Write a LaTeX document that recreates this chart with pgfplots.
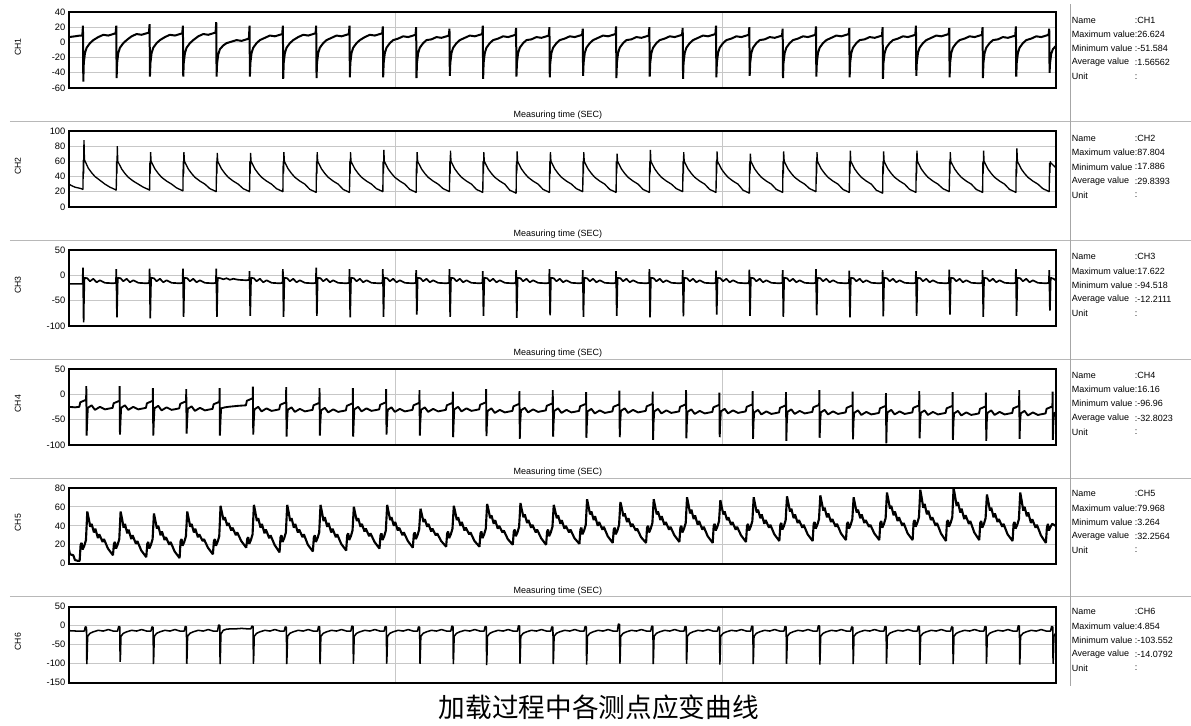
\documentclass[border=0pt]{standalone}
\usepackage{fontspec}
\setmainfont{Liberation Sans}
\newfontfamily\cjk{Noto Sans CJK SC}
\usepackage{pgfplots}
\pgfplotsset{compat=1.18}
\pgfplotsset{
  chan/.style={
    scale only axis, width=740.25pt, height=57pt,
    xmin=-4.3, xmax=291.8,
    xtick={93.8,191.9}, xticklabels={},
    grid=major,
    major grid style={draw=black!22, line width=0.6pt},
    axis line style={line width=1.5pt},
    tick style={draw=none},
    yticklabel style={font=\fontsize{7}{8}\selectfont, inner sep=0pt, xshift=-2.5pt},
    /pgf/number format/assume math mode=true,
    anchor=south west,
  },
  trace/.style={black, line join=bevel, mark=none},
}
\newcommand{\info}[5]{%
  \begin{scope}[font=\fontsize{6.75}{8}\selectfont, inner sep=0pt]
  \node[anchor=west] at (1072,-#1) {Name};
  \node[anchor=west] at (1135,-#1) {:#2};
  \node[anchor=west] at (1072,-#1-14.2) {Maximum value};
  \node[anchor=west] at (1135,-#1-14.2) {:#3};
  \node[anchor=west] at (1072,-#1-28.4) {Minimum value};
  \node[anchor=west] at (1135,-#1-28.4) {:#4};
  \node[anchor=west] at (1072,-#1-42.6) {Average value};
  \node[anchor=west] at (1135,-#1-42.6) {:#5};
  \node[anchor=west] at (1072,-#1-56.8) {Unit};
  \node[anchor=west] at (1135,-#1-56.8) {:};
  \end{scope}}
\begin{document}
\begin{tikzpicture}[x=0.75pt,y=0.75pt]
\path (0,0) rectangle (1191,-726);
% separators
\foreach \yy in {122,241,360,479,597}{\draw[black!28, line width=0.75pt] (10,-\yy) -- (1191,-\yy);}
\draw[black!35, line width=0.75pt] (1071,-4) -- (1071,-686);
% labels
\foreach \yy/\nm in {47/CH1,166/CH2,285/CH3,404/CH4,523/CH5,642/CH6}{\node[rotate=90, font=\fontsize{6.5}{7}\selectfont] at (18,-\yy) {\nm};}
\foreach \yy in {115,234,353,472,591}{\node[font=\fontsize{6.75}{8}\selectfont] at (558,-\yy) {Measuring time (SEC)};}
\info{20}{CH1}{26.624}{-51.584}{1.56562}
\info{138.5}{CH2}{87.804}{17.886}{29.8393}
\info{257}{CH3}{17.622}{-94.518}{-12.2111}
\info{375.5}{CH4}{16.16}{-96.96}{-32.8023}
\info{494}{CH5}{79.968}{3.264}{32.2564}
\info{612}{CH6}{4.854}{-103.552}{-14.0792}
\node[font={\cjk\fontsize{20}{24}\selectfont}] at (599,-708) {加载过程中各测点应变曲线};

% ---------------- CH1
\begin{axis}[chan, at={(51.75pt,-66pt)}, ymin=-60, ymax=40, ytick={-60,-40,-20,0,20,40}]
\addplot[trace, line width=1.5pt] coordinates {
(-4.3,7)(-2.5,8)(-1,9)
(-0.3,9)(-0.1,22)(0,-51.6)(0.15,-27)(0.5,-14)(1,-7)(2,-1)(3,3)(4.5,7)(6,10)(7.5,9)(9,11)
(9.7,12)(9.9,22)(10,-47)(10.15,-27)(10.5,-14)(11,-7)(12,-1)(13,3)(14.5,8)(16,11)(17.5,10)(19,12)
(19.7,13)(19.9,24)(20,-45)(20.15,-27)(20.5,-14)(21,-7)(22,-1)(23,3)(24.5,7)(26,10)(27.5,9)(29,11)
(29.7,12)(29.9,22)(30,-45)(30.15,-27)(30.5,-14)(31,-7)(32,-1)(33,3)(34.5,8)(36,11)(37.5,10)(39,12)
(39.7,13)(39.9,26.6)(40,-45)(40.15,-28)(40.5,-16)(41,-9)(42,-4)(43,-1)(44.5,1)(46,3)(47.5,2)(49,4)
(49.7,5)(49.9,22)(50,-45)(50.15,-27)(50.5,-14)(51,-7)(52,-1)(53,3)(54.5,6)(56,9)(57.5,8)(59,10)
(59.7,11)(59.9,22)(60,-48)(60.15,-27)(60.5,-14)(61,-7)(62,-1)(63,3)(64.5,7)(66,10)(67.5,9)(69,11)
(69.7,12)(69.9,22)(70,-47)(70.15,-27)(70.5,-14)(71,-7)(72,-1)(73,3)(74.5,6)(76,9)(77.5,8)(79,10)
(79.7,11)(79.9,22)(80,-46)(80.15,-27)(80.5,-14)(81,-7)(82,-1)(83,3)(84.5,7)(86,10)(87.5,9)(89,11)
(89.7,12)(89.9,21)(90,-46)(90.15,-27)(90.5,-14)(91,-7)(92,-1)(93,3)(94.5,5)(96,8)(97.5,7)(99,9)
(99.7,10)(99.9,20)(100,-47)(100.15,-27)(100.5,-14)(101,-7)(102,-1)(103,3)(104.5,4)(106,7)(107.5,6)(109,8)
(109.7,9)(109.9,18)(110,-44)(110.15,-27)(110.5,-14)(111,-7)(112,-1)(113,3)(114.5,6)(116,9)(117.5,8)(119,10)
(119.7,11)(119.9,22)(120,-48)(120.15,-27)(120.5,-14)(121,-7)(122,-1)(123,3)(124.5,5)(126,8)(127.5,7)(129,9)
(129.7,10)(129.9,19)(130,-45)(130.15,-27)(130.5,-14)(131,-7)(132,-1)(133,3)(134.5,4)(136,7)(137.5,6)(139,8)
(139.7,9)(139.9,20)(140,-46)(140.15,-27)(140.5,-14)(141,-7)(142,-1)(143,3)(144.5,5)(146,8)(147.5,7)(149,9)
(149.7,10)(149.9,18)(150,-44)(150.15,-27)(150.5,-14)(151,-7)(152,-1)(153,3)(154.5,6)(156,9)(157.5,8)(159,10)
(159.7,11)(159.9,21)(160,-47)(160.15,-27)(160.5,-14)(161,-7)(162,-1)(163,3)(164.5,4)(166,7)(167.5,6)(169,8)
(169.7,9)(169.9,20)(170,-45)(170.15,-27)(170.5,-14)(171,-7)(172,-1)(173,3)(174.5,5)(176,8)(177.5,7)(179,9)
(179.7,10)(179.9,19)(180,-48)(180.15,-27)(180.5,-14)(181,-7)(182,-1)(183,3)(184.5,6)(186,9)(187.5,8)(189,10)
(189.7,11)(189.9,22)(190,-46)(190.15,-27)(190.5,-14)(191,-7)(192,-1)(193,3)(194.5,5)(196,8)(197.5,7)(199,9)
(199.7,10)(199.9,20)(200,-44)(200.15,-27)(200.5,-14)(201,-7)(202,-1)(203,3)(204.5,4)(206,7)(207.5,6)(209,8)
(209.7,9)(209.9,18)(210,-47)(210.15,-27)(210.5,-14)(211,-7)(212,-1)(213,3)(214.5,5)(216,8)(217.5,7)(219,9)
(219.7,10)(219.9,21)(220,-45)(220.15,-27)(220.5,-14)(221,-7)(222,-1)(223,3)(224.5,6)(226,9)(227.5,8)(229,10)
(229.7,11)(229.9,19)(230,-46)(230.15,-27)(230.5,-14)(231,-7)(232,-1)(233,3)(234.5,4)(236,7)(237.5,6)(239,8)
(239.7,9)(239.9,20)(240,-48)(240.15,-27)(240.5,-14)(241,-7)(242,-1)(243,3)(244.5,5)(246,8)(247.5,7)(249,9)
(249.7,10)(249.9,22)(250,-44)(250.15,-27)(250.5,-14)(251,-7)(252,-1)(253,3)(254.5,6)(256,9)(257.5,8)(259,10)
(259.7,11)(259.9,19)(260,-46)(260.15,-27)(260.5,-14)(261,-7)(262,-1)(263,3)(264.5,5)(266,8)(267.5,7)(269,9)
(269.7,10)(269.9,20)(270,-47)(270.15,-27)(270.5,-14)(271,-7)(272,-1)(273,3)(274.5,4)(276,7)(277.5,6)(279,8)
(279.7,9)(279.9,21)(280,-45)(280.15,-27)(280.5,-14)(281,-7)(282,-1)(283,3)(284.5,5)(286,8)(287.5,7)(289,9)
(289.7,10)(289.9,18)(290,-40)(290.15,-27)(290.5,-15)(291,-9)(291.8,-5)
};
\end{axis}

% ---------------- CH2
\begin{axis}[chan, at={(51.75pt,-155.25pt)}, ymin=0, ymax=100, ytick={0,20,40,60,80,100}]
\addplot[trace, line width=1.0pt] coordinates {
(-4.3,30)(-3.5,28)(-2.5,26)(-1.5,25)(-0.6,24)
(-0.1,23)(0,62)(0.1,44)(0.2,88)(0.35,62)(1.5,51)(2.5,45)(3.5,40)(5,35)(6.5,30)(8,26)(9.5,23)
(9.9,22)(10,60)(10.1,44)(10.2,80)(10.35,60)(11.5,50)(12.5,44)(13.5,39)(15,34)(16.5,30)(18,26)(19.5,23)
(19.9,22)(20,60)(20.1,44)(20.2,72)(20.35,60)(21.5,50)(22.5,44)(23.5,39)(25,34)(26.5,30)(28,25)(29.5,22)
(29.9,21)(30,60)(30.1,44)(30.2,72)(30.35,60)(31.5,50)(32.5,44)(33.5,39)(35,34)(36.5,30)(38,24)(39.5,21)
(39.9,20)(40,60)(40.1,44)(40.2,71)(40.35,60)(41.5,50)(42.5,44)(43.5,39)(45,34)(46.5,30)(48,24)(49.5,21)
(49.9,20)(50,60)(50.1,44)(50.2,71)(50.35,60)(51.5,50)(52.5,44)(53.5,39)(55,34)(56.5,30)(58,24)(59.5,21)
(59.9,20)(60,60)(60.1,44)(60.2,72)(60.35,60)(61.5,50)(62.5,44)(63.5,39)(65,34)(66.5,30)(68,23)(69.5,20)
(69.9,19)(70,60)(70.1,44)(70.2,72)(70.35,60)(71.5,50)(72.5,44)(73.5,39)(75,34)(76.5,30)(78,23)(79.5,20)
(79.9,19)(80,60)(80.1,44)(80.2,72)(80.35,60)(81.5,50)(82.5,44)(83.5,39)(85,34)(86.5,30)(88,24)(89.5,21)
(89.9,20)(90,60)(90.1,44)(90.2,75)(90.35,60)(91.5,50)(92.5,44)(93.5,39)(95,34)(96.5,30)(98,23)(99.5,20)
(99.9,19)(100,60)(100.1,44)(100.2,72)(100.35,60)(101.5,50)(102.5,44)(103.5,39)(105,34)(106.5,30)(108,24)(109.5,21)
(109.9,20)(110,60)(110.1,44)(110.2,74)(110.35,60)(111.5,50)(112.5,44)(113.5,39)(115,34)(116.5,30)(118,23)(119.5,20)
(119.9,19)(120,60)(120.1,44)(120.2,72)(120.35,60)(121.5,50)(122.5,44)(123.5,39)(125,34)(126.5,30)(128,22)(129.5,19)
(129.9,18)(130,60)(130.1,44)(130.2,73)(130.35,60)(131.5,50)(132.5,44)(133.5,39)(135,34)(136.5,30)(138,23)(139.5,20)
(139.9,19)(140,60)(140.1,44)(140.2,72)(140.35,60)(141.5,50)(142.5,44)(143.5,39)(145,34)(146.5,30)(148,24)(149.5,21)
(149.9,20)(150,60)(150.1,44)(150.2,72)(150.35,60)(151.5,50)(152.5,44)(153.5,39)(155,34)(156.5,30)(158,23)(159.5,20)
(159.9,19)(160,60)(160.1,44)(160.2,70)(160.35,60)(161.5,50)(162.5,44)(163.5,39)(165,34)(166.5,30)(168,23)(169.5,20)
(169.9,19)(170,60)(170.1,44)(170.2,75)(170.35,60)(171.5,50)(172.5,44)(173.5,39)(175,34)(176.5,30)(178,24)(179.5,21)
(179.9,20)(180,60)(180.1,44)(180.2,72)(180.35,60)(181.5,50)(182.5,44)(183.5,39)(185,34)(186.5,30)(188,23)(189.5,20)
(189.9,19)(190,60)(190.1,44)(190.2,73)(190.35,60)(191.5,50)(192.5,44)(193.5,39)(195,34)(196.5,30)(198,22)(199.5,19)
(199.9,18)(200,60)(200.1,44)(200.2,70)(200.35,60)(201.5,50)(202.5,44)(203.5,39)(205,34)(206.5,30)(208,23)(209.5,20)
(209.9,19)(210,60)(210.1,44)(210.2,73)(210.35,60)(211.5,50)(212.5,44)(213.5,39)(215,34)(216.5,30)(218,24)(219.5,21)
(219.9,20)(220,60)(220.1,44)(220.2,72)(220.35,60)(221.5,50)(222.5,44)(223.5,39)(225,34)(226.5,30)(228,23)(229.5,20)
(229.9,19)(230,60)(230.1,44)(230.2,74)(230.35,60)(231.5,50)(232.5,44)(233.5,39)(235,34)(236.5,30)(238,22)(239.5,19)
(239.9,18)(240,60)(240.1,44)(240.2,73)(240.35,60)(241.5,50)(242.5,44)(243.5,39)(245,34)(246.5,30)(248,23)(249.5,20)
(249.9,19)(250,60)(250.1,44)(250.2,74)(250.35,60)(251.5,50)(252.5,44)(253.5,39)(255,34)(256.5,30)(258,24)(259.5,21)
(259.9,20)(260,60)(260.1,44)(260.2,72)(260.35,60)(261.5,50)(262.5,44)(263.5,39)(265,34)(266.5,30)(268,23)(269.5,20)
(269.9,19)(270,60)(270.1,44)(270.2,74)(270.35,60)(271.5,50)(272.5,44)(273.5,39)(275,34)(276.5,30)(278,23)(279.5,20)
(279.9,19)(280,60)(280.1,44)(280.2,77)(280.35,60)(281.5,50)(282.5,44)(283.5,39)(285,34)(286.5,30)(288,24)(289.5,21)
(289.9,20)(290,58)(290.1,45)(290.2,60)(290.35,58)(291.8,52)
};
\end{axis}

% ---------------- CH3
\begin{axis}[chan, at={(51.75pt,-244.5pt)}, ymin=-100, ymax=50, ytick={-100,-50,0,50}]
\addplot[trace, line width=1.25pt] coordinates {
(-4.3,-17)(-0.3,-17)
(-0.2,-15)(-0.1,15)(0.1,-93)(0.2,-50)(0.35,-5)(1.2,-6)(2,-12)(3,-7)(4,-14)(5,-10)(6.5,-15)(9,-16)
(9.8,-15)(9.9,12)(10.1,-83)(10.2,-50)(10.35,-5)(11.2,-6)(12,-12)(13,-7)(14,-14)(15,-10)(16.5,-15)(19,-16)
(19.8,-15)(19.9,13)(20.1,-85)(20.2,-50)(20.35,-5)(21.2,-6)(22,-12)(23,-7)(24,-14)(25,-10)(26.5,-15)(29,-16)
(29.8,-15)(29.9,13)(30.1,-82)(30.2,-50)(30.35,-5)(31.2,-6)(32,-12)(33,-7)(34,-14)(35,-10)(36.5,-15)(39,-16)
(39.8,-15)(39.9,13)(40.1,-82)(40.2,-50)(40.35,-5)(41.2,-6)(42,-8)(43,-6)(44,-9)(45,-7)(46.5,-9)(49,-10)
(49.8,-9)(49.9,8)(50.1,-80)(50.2,-50)(50.35,-5)(51.2,-6)(52,-12)(53,-7)(54,-14)(55,-10)(56.5,-15)(59,-16)
(59.8,-15)(59.9,12)(60.1,-82)(60.2,-50)(60.35,-5)(61.2,-6)(62,-12)(63,-7)(64,-14)(65,-10)(66.5,-15)(69,-16)
(69.8,-15)(69.9,15)(70.1,-80)(70.2,-50)(70.35,-5)(71.2,-6)(72,-12)(73,-7)(74,-14)(75,-10)(76.5,-15)(79,-16)
(79.8,-15)(79.9,12)(80.1,-83)(80.2,-50)(80.35,-5)(81.2,-6)(82,-12)(83,-7)(84,-14)(85,-10)(86.5,-15)(89,-16)
(89.8,-15)(89.9,12)(90.1,-82)(90.2,-50)(90.35,-5)(91.2,-6)(92,-12)(93,-7)(94,-14)(95,-10)(96.5,-15)(99,-16)
(99.8,-15)(99.9,10)(100.1,-78)(100.2,-50)(100.35,-5)(101.2,-6)(102,-12)(103,-7)(104,-14)(105,-10)(106.5,-15)(109,-16)
(109.8,-15)(109.9,12)(110.1,-82)(110.2,-50)(110.35,-5)(111.2,-6)(112,-12)(113,-7)(114,-14)(115,-10)(116.5,-15)(119,-16)
(119.8,-15)(119.9,8)(120.1,-80)(120.2,-50)(120.35,-5)(121.2,-6)(122,-12)(123,-7)(124,-14)(125,-10)(126.5,-15)(129,-16)
(129.8,-15)(129.9,10)(130.1,-84)(130.2,-50)(130.35,-5)(131.2,-6)(132,-12)(133,-7)(134,-14)(135,-10)(136.5,-15)(139,-16)
(139.8,-15)(139.9,12)(140.1,-79)(140.2,-50)(140.35,-5)(141.2,-6)(142,-12)(143,-7)(144,-14)(145,-10)(146.5,-15)(149,-16)
(149.8,-15)(149.9,10)(150.1,-82)(150.2,-50)(150.35,-5)(151.2,-6)(152,-12)(153,-7)(154,-14)(155,-10)(156.5,-15)(159,-16)
(159.8,-15)(159.9,8)(160.1,-80)(160.2,-50)(160.35,-5)(161.2,-6)(162,-12)(163,-7)(164,-14)(165,-10)(166.5,-15)(169,-16)
(169.8,-15)(169.9,12)(170.1,-83)(170.2,-50)(170.35,-5)(171.2,-6)(172,-12)(173,-7)(174,-14)(175,-10)(176.5,-15)(179,-16)
(179.8,-15)(179.9,10)(180.1,-81)(180.2,-50)(180.35,-5)(181.2,-6)(182,-12)(183,-7)(184,-14)(185,-10)(186.5,-15)(189,-16)
(189.8,-15)(189.9,9)(190.1,-78)(190.2,-50)(190.35,-5)(191.2,-6)(192,-12)(193,-7)(194,-14)(195,-10)(196.5,-15)(199,-16)
(199.8,-15)(199.9,11)(200.1,-80)(200.2,-50)(200.35,-5)(201.2,-6)(202,-12)(203,-7)(204,-14)(205,-10)(206.5,-15)(209,-16)
(209.8,-15)(209.9,10)(210.1,-82)(210.2,-50)(210.35,-5)(211.2,-6)(212,-12)(213,-7)(214,-14)(215,-10)(216.5,-15)(219,-16)
(219.8,-15)(219.9,12)(220.1,-79)(220.2,-50)(220.35,-5)(221.2,-6)(222,-12)(223,-7)(224,-14)(225,-10)(226.5,-15)(229,-16)
(229.8,-15)(229.9,9)(230.1,-83)(230.2,-50)(230.35,-5)(231.2,-6)(232,-12)(233,-7)(234,-14)(235,-10)(236.5,-15)(239,-16)
(239.8,-15)(239.9,10)(240.1,-81)(240.2,-50)(240.35,-5)(241.2,-6)(242,-12)(243,-7)(244,-14)(245,-10)(246.5,-15)(249,-16)
(249.8,-15)(249.9,8)(250.1,-80)(250.2,-50)(250.35,-5)(251.2,-6)(252,-12)(253,-7)(254,-14)(255,-10)(256.5,-15)(259,-16)
(259.8,-15)(259.9,11)(260.1,-78)(260.2,-50)(260.35,-5)(261.2,-6)(262,-12)(263,-7)(264,-14)(265,-10)(266.5,-15)(269,-16)
(269.8,-15)(269.9,10)(270.1,-82)(270.2,-50)(270.35,-5)(271.2,-6)(272,-12)(273,-7)(274,-14)(275,-10)(276.5,-15)(279,-16)
(279.8,-15)(279.9,12)(280.1,-80)(280.2,-50)(280.35,-5)(281.2,-6)(282,-12)(283,-7)(284,-14)(285,-10)(286.5,-15)(289,-16)
(289.8,-15)(289.9,10)(290.1,-70)(290.2,-45)(290.35,-5)(291.2,-7)(291.8,-10)
};
\end{axis}

% ---------------- CH4
\begin{axis}[chan, at={(51.75pt,-333.75pt)}, ymin=-100, ymax=50, ytick={-100,-50,0,50}]
\addplot[trace, line width=1.4pt] coordinates {
(-4.3,-25)(-2.5,-26)(-1.2,-25)
(-0.9,-16)(0.5,-12)(0.85,-11)(0.9,16)(1,-82)(1.15,-55)(1.35,-27)(2.5,-22)(3.5,-31)(5,-25)(6.5,-30)(8.8,-27)
(9.1,-18)(10.5,-14)(10.85,-13)(10.9,16)(11,-80)(11.15,-55)(11.35,-27)(12.5,-22)(13.5,-31)(15,-25)(16.5,-30)(18.8,-27)
(19.1,-18)(20.5,-14)(20.85,-13)(20.9,12)(21,-82)(21.15,-55)(21.35,-28)(22.5,-23)(23.5,-32)(25,-26)(26.5,-31)(28.8,-28)
(29.1,-19)(30.5,-15)(30.85,-14)(30.9,10)(31,-78)(31.15,-55)(31.35,-29)(32.5,-24)(33.5,-33)(35,-27)(36.5,-32)(38.8,-29)
(39.1,-20)(40.5,-16)(40.85,-15)(40.9,12)(41,-82)(41.15,-55)(41.35,-28)(42.5,-26)(43.5,-25)(45,-24)(46.5,-23)(48.8,-22)
(49.1,-13)(50.5,-9)(50.85,-8)(50.9,15)(51,-80)(51.15,-55)(51.35,-30)(52.5,-25)(53.5,-34)(55,-28)(56.5,-33)(58.8,-30)
(59.1,-21)(60.5,-17)(60.85,-16)(60.9,14)(61,-84)(61.15,-55)(61.35,-31)(62.5,-26)(63.5,-35)(65,-29)(66.5,-34)(68.8,-31)
(69.1,-22)(70.5,-18)(70.85,-17)(70.9,12)(71,-82)(71.15,-55)(71.35,-32)(72.5,-27)(73.5,-36)(75,-30)(76.5,-35)(78.8,-32)
(79.1,-23)(80.5,-19)(80.85,-18)(80.9,12)(81,-84)(81.15,-55)(81.35,-30)(82.5,-25)(83.5,-34)(85,-28)(86.5,-33)(88.8,-30)
(89.1,-21)(90.5,-17)(90.85,-16)(90.9,10)(91,-80)(91.15,-55)(91.35,-31)(92.5,-26)(93.5,-35)(95,-29)(96.5,-34)(98.8,-31)
(99.1,-22)(100.5,-18)(100.85,-17)(100.9,8)(101,-82)(101.15,-55)(101.35,-31)(102.5,-26)(103.5,-35)(105,-29)(106.5,-34)(108.8,-31)
(109.1,-22)(110.5,-18)(110.85,-17)(110.9,5)(111,-85)(111.15,-55)(111.35,-30)(112.5,-25)(113.5,-34)(115,-28)(116.5,-33)(118.8,-30)
(119.1,-21)(120.5,-17)(120.85,-16)(120.9,10)(121,-83)(121.15,-55)(121.35,-33)(122.5,-28)(123.5,-37)(125,-31)(126.5,-36)(128.8,-33)
(129.1,-24)(130.5,-20)(130.85,-19)(130.9,6)(131,-88)(131.15,-55)(131.35,-32)(132.5,-27)(133.5,-36)(135,-30)(136.5,-35)(138.8,-32)
(139.1,-23)(140.5,-19)(140.85,-18)(140.9,8)(141,-84)(141.15,-55)(141.35,-33)(142.5,-28)(143.5,-37)(145,-31)(146.5,-36)(148.8,-33)
(149.1,-24)(150.5,-20)(150.85,-19)(150.9,4)(151,-86)(151.15,-55)(151.35,-34)(152.5,-29)(153.5,-38)(155,-32)(156.5,-37)(158.8,-34)
(159.1,-25)(160.5,-21)(160.85,-20)(160.9,7)(161,-85)(161.15,-55)(161.35,-33)(162.5,-28)(163.5,-37)(165,-31)(166.5,-36)(168.8,-33)
(169.1,-24)(170.5,-20)(170.85,-19)(170.9,5)(171,-90)(171.15,-55)(171.35,-34)(172.5,-29)(173.5,-38)(175,-32)(176.5,-37)(178.8,-34)
(179.1,-25)(180.5,-21)(180.85,-20)(180.9,8)(181,-87)(181.15,-55)(181.35,-35)(182.5,-30)(183.5,-39)(185,-33)(186.5,-38)(188.8,-35)
(189.1,-26)(190.5,-22)(190.85,-21)(190.9,3)(191,-85)(191.15,-55)(191.35,-34)(192.5,-29)(193.5,-38)(195,-32)(196.5,-37)(198.8,-34)
(199.1,-25)(200.5,-21)(200.85,-20)(200.9,6)(201,-88)(201.15,-55)(201.35,-36)(202.5,-31)(203.5,-40)(205,-34)(206.5,-39)(208.8,-36)
(209.1,-27)(210.5,-23)(210.85,-22)(210.9,4)(211,-92)(211.15,-55)(211.35,-35)(212.5,-30)(213.5,-39)(215,-33)(216.5,-38)(218.8,-35)
(219.1,-26)(220.5,-22)(220.85,-21)(220.9,8)(221,-86)(221.15,-55)(221.35,-36)(222.5,-31)(223.5,-40)(225,-34)(226.5,-39)(228.8,-36)
(229.1,-27)(230.5,-23)(230.85,-22)(230.9,5)(231,-89)(231.15,-55)(231.35,-37)(232.5,-32)(233.5,-41)(235,-35)(236.5,-40)(238.8,-37)
(239.1,-28)(240.5,-24)(240.85,-23)(240.9,2)(241,-97)(241.15,-55)(241.35,-36)(242.5,-31)(243.5,-40)(245,-34)(246.5,-39)(248.8,-36)
(249.1,-27)(250.5,-23)(250.85,-22)(250.9,6)(251,-87)(251.15,-55)(251.35,-37)(252.5,-32)(253.5,-41)(255,-35)(256.5,-40)(258.8,-37)
(259.1,-28)(260.5,-24)(260.85,-23)(260.9,4)(261,-90)(261.15,-55)(261.35,-38)(262.5,-33)(263.5,-42)(265,-36)(266.5,-41)(268.8,-38)
(269.1,-29)(270.5,-25)(270.85,-24)(270.9,3)(271,-92)(271.15,-55)(271.35,-37)(272.5,-32)(273.5,-41)(275,-35)(276.5,-40)(278.8,-37)
(279.1,-28)(280.5,-24)(280.85,-23)(280.9,8)(281,-88)(281.15,-55)(281.35,-38)(282.5,-33)(283.5,-42)(285,-36)(286.5,-41)(288.8,-38)
(289.1,-29)(290.5,-25)(290.85,-24)(290.9,5)(291,-90)(291.15,-55)(291.35,-38)(291.8,-36)
};
\end{axis}

% ---------------- CH5
\begin{axis}[chan, at={(51.75pt,-423pt)}, ymin=0, ymax=80, ytick={0,20,40,60,80}]
\addplot[trace, line width=1.6pt] coordinates {
(-4.3,15)(-4,10)(-3,9)(-2.5,4)(-1.6,3)(-1.1,3)
(-0.8,20)(-0.5,22)(-0.2,15)(0.3,19)(0.8,25)(1.2,55)(1.6,48)(2.1,39)(2.5,42)(3.2,33)(3.6,37)(4.4,27)(4.8,31)(5.8,23)(6.2,26)(7.4,16)(8.9,9)
(9.2,21)(9.5,23)(9.8,16)(10.3,20)(10.8,26)(11.2,55)(11.6,48)(12.1,38)(12.5,42)(13.2,32)(13.6,36)(14.4,26)(14.8,30)(15.8,21)(16.2,24)(17.4,14)(18.9,7)
(19.2,21)(19.5,23)(19.8,16)(20.3,20)(20.8,26)(21.2,53)(21.6,46)(22.1,37)(22.5,40)(23.2,30)(23.6,34)(24.4,25)(24.8,28)(25.8,20)(26.2,23)(27.4,13)(28.9,6)
(29.2,24)(29.5,26)(29.8,19)(30.3,23)(30.8,29)(31.2,55)(31.6,48)(32.1,39)(32.5,42)(33.2,33)(33.6,37)(34.4,28)(34.8,31)(35.8,24)(36.2,26)(37.4,17)(38.9,10)
(39.2,24)(39.5,26)(39.8,19)(40.3,23)(40.8,29)(41.2,61)(41.6,54)(42.1,46)(42.5,49)(43.2,40)(43.6,43)(44.4,35)(44.8,38)(45.8,30)(46.2,33)(47.4,24)(48.9,17)
(49.2,26)(49.5,28)(49.8,21)(50.3,25)(50.8,31)(51.2,62)(51.6,55)(52.1,45)(52.5,48)(53.2,38)(53.6,42)(54.4,32)(54.8,36)(55.8,27)(56.2,30)(57.4,20)(58.9,12)
(59.2,28)(59.5,30)(59.8,23)(60.3,27)(60.8,33)(61.2,62)(61.6,55)(62.1,45)(62.5,48)(63.2,38)(63.6,42)(64.4,33)(64.8,36)(65.8,28)(66.2,31)(67.4,20)(68.9,13)
(69.2,28)(69.5,30)(69.8,23)(70.3,27)(70.8,33)(71.2,62)(71.6,55)(72.1,45)(72.5,49)(73.2,39)(73.6,43)(74.4,33)(74.8,37)(75.8,28)(76.2,31)(77.4,21)(78.9,14)
(79.2,30)(79.5,32)(79.8,25)(80.3,29)(80.8,35)(81.2,60)(81.6,53)(82.1,45)(82.5,48)(83.2,39)(83.6,42)(84.4,34)(84.8,37)(85.8,29)(86.2,32)(87.4,23)(88.9,16)
(89.2,30)(89.5,32)(89.8,25)(90.3,29)(90.8,35)(91.2,62)(91.6,55)(92.1,46)(92.5,49)(93.2,40)(93.6,44)(94.4,35)(94.8,38)(95.8,30)(96.2,33)(97.4,24)(98.9,17)
(99.2,31)(99.5,33)(99.8,26)(100.3,30)(100.8,36)(101.2,58)(101.6,52)(102.1,44)(102.5,47)(103.2,39)(103.6,42)(104.4,34)(104.8,37)(105.8,30)(106.2,32)(107.4,24)(108.9,18)
(109.2,32)(109.5,34)(109.8,27)(110.3,31)(110.8,37)(111.2,61)(111.6,55)(112.1,46)(112.5,49)(113.2,40)(113.6,44)(114.4,35)(114.8,38)(115.8,31)(116.2,33)(117.4,24)(118.9,18)
(119.2,32)(119.5,34)(119.8,27)(120.3,31)(120.8,37)(121.2,63)(121.6,57)(122.1,48)(122.5,51)(123.2,42)(123.6,46)(124.4,37)(124.8,40)(125.8,33)(126.2,35)(127.4,26)(128.9,20)
(129.2,34)(129.5,36)(129.8,29)(130.3,33)(130.8,39)(131.2,64)(131.6,57)(132.1,49)(132.5,52)(133.2,43)(133.6,46)(134.4,38)(134.8,41)(135.8,33)(136.2,36)(137.4,27)(138.9,20)
(139.2,34)(139.5,36)(139.8,29)(140.3,33)(140.8,39)(141.2,62)(141.6,56)(142.1,48)(142.5,51)(143.2,42)(143.6,46)(144.4,37)(144.8,40)(145.8,33)(146.2,36)(147.4,27)(148.9,21)
(149.2,36)(149.5,38)(149.8,31)(150.3,35)(150.8,41)(151.2,68)(151.6,61)(152.1,52)(152.5,55)(153.2,46)(153.6,50)(154.4,40)(154.8,44)(155.8,36)(156.2,39)(157.4,29)(158.9,22)
(159.2,36)(159.5,38)(159.8,31)(160.3,35)(160.8,41)(161.2,65)(161.6,59)(162.1,50)(162.5,53)(163.2,44)(163.6,48)(164.4,39)(164.8,42)(165.8,35)(166.2,37)(167.4,28)(168.9,22)
(169.2,38)(169.5,40)(169.8,33)(170.3,37)(170.8,43)(171.2,68)(171.6,61)(172.1,52)(172.5,55)(173.2,46)(173.6,50)(174.4,41)(174.8,44)(175.8,36)(176.2,39)(177.4,30)(178.9,23)
(179.2,38)(179.5,40)(179.8,33)(180.3,37)(180.8,43)(181.2,70)(181.6,63)(182.1,53)(182.5,57)(183.2,47)(183.6,51)(184.4,41)(184.8,45)(185.8,36)(186.2,39)(187.4,29)(188.9,22)
(189.2,40)(189.5,42)(189.8,35)(190.3,39)(190.8,45)(191.2,67)(191.6,60)(192.1,52)(192.5,55)(193.2,46)(193.6,49)(194.4,41)(194.8,44)(195.8,36)(196.2,39)(197.4,30)(198.9,23)
(199.2,40)(199.5,42)(199.8,35)(200.3,39)(200.8,45)(201.2,70)(201.6,63)(202.1,54)(202.5,57)(203.2,48)(203.6,52)(204.4,42)(204.8,46)(205.8,38)(206.2,41)(207.4,31)(208.9,24)
(209.2,41)(209.5,43)(209.8,36)(210.3,40)(210.8,46)(211.2,71)(211.6,64)(212.1,55)(212.5,58)(213.2,48)(213.6,52)(214.4,43)(214.8,46)(215.8,38)(216.2,41)(217.4,31)(218.9,24)
(219.2,42)(219.5,44)(219.8,37)(220.3,41)(220.8,47)(221.2,72)(221.6,65)(222.1,56)(222.5,59)(223.2,49)(223.6,53)(224.4,44)(224.8,47)(225.8,39)(226.2,42)(227.4,32)(228.9,25)
(229.2,42)(229.5,44)(229.8,37)(230.3,41)(230.8,47)(231.2,70)(231.6,63)(232.1,54)(232.5,57)(233.2,48)(233.6,52)(234.4,43)(234.8,46)(235.8,39)(236.2,41)(237.4,32)(238.9,25)
(239.2,43)(239.5,45)(239.8,38)(240.3,42)(240.8,48)(241.2,75)(241.6,68)(242.1,58)(242.5,61)(243.2,51)(243.6,55)(244.4,45)(244.8,49)(245.8,40)(246.2,43)(247.4,32)(248.9,25)
(249.2,44)(249.5,46)(249.8,39)(250.3,43)(250.8,49)(251.2,78)(251.6,70)(252.1,59)(252.5,63)(253.2,52)(253.6,56)(254.4,46)(254.8,49)(255.8,40)(256.2,43)(257.4,32)(258.9,24)
(259.2,44)(259.5,46)(259.8,39)(260.3,43)(260.8,49)(261.2,80)(261.6,72)(262.1,61)(262.5,65)(263.2,54)(263.6,58)(264.4,47)(264.8,51)(265.8,42)(266.2,45)(267.4,33)(268.9,25)
(269.2,43)(269.5,45)(269.8,38)(270.3,42)(270.8,48)(271.2,73)(271.6,66)(272.1,56)(272.5,59)(273.2,49)(273.6,53)(274.4,44)(274.8,47)(275.8,39)(276.2,42)(277.4,31)(278.9,24)
(279.2,42)(279.5,44)(279.8,37)(280.3,41)(280.8,47)(281.2,75)(281.6,67)(282.1,56)(282.5,60)(283.2,50)(283.6,54)(284.4,43)(284.8,47)(285.8,38)(286.2,41)(287.4,30)(288.9,22)
(289.2,38)(289.5,42)(289.8,35)(290.3,39)(290.8,42)(291.8,40)
};
\end{axis}

% ---------------- CH6
\begin{axis}[chan, at={(51.75pt,-512.25pt)}, ymin=-150, ymax=50, ytick={-150,-100,-50,0,50}]
\addplot[trace, line width=1.15pt] coordinates {
(-4.3,-13)(-2,-14)
(0.3,-14)(0.6,-3)(0.95,-4)(1.05,-101)(1.15,-80)(1.3,-28)(2,-20)(3,-16)(4.5,-12)(6,-14)(7.5,-10)(9,-14)
(10.3,-14)(10.6,-2)(10.95,-3)(11.05,-95)(11.15,-80)(11.3,-28)(12,-20)(13,-16)(14.5,-12)(16,-14)(17.5,-10)(19,-14)
(20.3,-14)(20.6,-3)(20.95,-4)(21.05,-101)(21.15,-80)(21.3,-28)(22,-20)(23,-16)(24.5,-12)(26,-14)(27.5,-10)(29,-14)
(30.3,-14)(30.6,-2)(30.95,-3)(31.05,-100)(31.15,-80)(31.3,-28)(32,-20)(33,-16)(34.5,-12)(36,-14)(37.5,-10)(39,-14)
(40.3,-14)(40.6,2)(40.95,1)(41.05,-101)(41.15,-80)(41.3,-22)(42,-12)(43,-9)(44.5,-8)(46,-8)(47.5,-7)(49,-8)
(50.3,-8)(50.6,-1)(50.95,-2)(51.05,-100)(51.15,-80)(51.3,-28)(52,-20)(53,-16)(54.5,-12)(56,-14)(57.5,-10)(59,-14)
(60.3,-14)(60.6,-3)(60.95,-4)(61.05,-101)(61.15,-80)(61.3,-28)(62,-20)(63,-16)(64.5,-12)(66,-14)(67.5,-10)(69,-14)
(70.3,-14)(70.6,-2)(70.95,-3)(71.05,-101)(71.15,-80)(71.3,-28)(72,-20)(73,-16)(74.5,-12)(76,-14)(77.5,-10)(79,-14)
(80.3,-14)(80.6,-1)(80.95,-2)(81.05,-100)(81.15,-80)(81.3,-28)(82,-20)(83,-16)(84.5,-12)(86,-14)(87.5,-10)(89,-14)
(90.3,-14)(90.6,-2)(90.95,-3)(91.05,-100)(91.15,-80)(91.3,-28)(92,-20)(93,-16)(94.5,-12)(96,-14)(97.5,-10)(99,-14)
(100.3,-14)(100.6,-3)(100.95,-4)(101.05,-100)(101.15,-80)(101.3,-28)(102,-20)(103,-16)(104.5,-12)(106,-14)(107.5,-10)(109,-14)
(110.3,-14)(110.6,-1)(110.95,-2)(111.05,-101)(111.15,-80)(111.3,-28)(112,-20)(113,-16)(114.5,-12)(116,-14)(117.5,-10)(119,-14)
(120.3,-14)(120.6,-2)(120.95,-3)(121.05,-103.5)(121.15,-80)(121.3,-28)(122,-20)(123,-16)(124.5,-12)(126,-14)(127.5,-10)(129,-14)
(130.3,-14)(130.6,0)(130.95,-1)(131.05,-100)(131.15,-80)(131.3,-28)(132,-20)(133,-16)(134.5,-12)(136,-14)(137.5,-10)(139,-14)
(140.3,-14)(140.6,-3)(140.95,-4)(141.05,-101)(141.15,-80)(141.3,-28)(142,-20)(143,-16)(144.5,-12)(146,-14)(147.5,-10)(149,-14)
(150.3,-14)(150.6,-2)(150.95,-3)(151.05,-102)(151.15,-80)(151.3,-28)(152,-20)(153,-16)(154.5,-12)(156,-14)(157.5,-10)(159,-14)
(160.3,-14)(160.6,4.85)(160.95,3)(161.05,-100)(161.15,-80)(161.3,-28)(162,-20)(163,-16)(164.5,-12)(166,-14)(167.5,-10)(169,-14)
(170.3,-14)(170.6,-1)(170.95,-2)(171.05,-101)(171.15,-80)(171.3,-28)(172,-20)(173,-16)(174.5,-12)(176,-14)(177.5,-10)(179,-14)
(180.3,-14)(180.6,-2)(180.95,-3)(181.05,-100)(181.15,-80)(181.3,-28)(182,-20)(183,-16)(184.5,-12)(186,-14)(187.5,-10)(189,-14)
(190.3,-14)(190.6,-3)(190.95,-4)(191.05,-102)(191.15,-80)(191.3,-28)(192,-20)(193,-16)(194.5,-12)(196,-14)(197.5,-10)(199,-14)
(200.3,-14)(200.6,-1)(200.95,-2)(201.05,-101)(201.15,-80)(201.3,-28)(202,-20)(203,-16)(204.5,-12)(206,-14)(207.5,-10)(209,-14)
(210.3,-14)(210.6,-2)(210.95,-3)(211.05,-100)(211.15,-80)(211.3,-28)(212,-20)(213,-16)(214.5,-12)(216,-14)(217.5,-10)(219,-14)
(220.3,-14)(220.6,0)(220.95,-1)(221.05,-102)(221.15,-80)(221.3,-28)(222,-20)(223,-16)(224.5,-12)(226,-14)(227.5,-10)(229,-14)
(230.3,-14)(230.6,-3)(230.95,-4)(231.05,-101)(231.15,-80)(231.3,-28)(232,-20)(233,-16)(234.5,-12)(236,-14)(237.5,-10)(239,-14)
(240.3,-14)(240.6,-2)(240.95,-3)(241.05,-100)(241.15,-80)(241.3,-28)(242,-20)(243,-16)(244.5,-12)(246,-14)(247.5,-10)(249,-14)
(250.3,-14)(250.6,-1)(250.95,-2)(251.05,-103)(251.15,-80)(251.3,-28)(252,-20)(253,-16)(254.5,-12)(256,-14)(257.5,-10)(259,-14)
(260.3,-14)(260.6,-3)(260.95,-4)(261.05,-101)(261.15,-80)(261.3,-28)(262,-20)(263,-16)(264.5,-12)(266,-14)(267.5,-10)(269,-14)
(270.3,-14)(270.6,-2)(270.95,-3)(271.05,-100)(271.15,-80)(271.3,-28)(272,-20)(273,-16)(274.5,-12)(276,-14)(277.5,-10)(279,-14)
(280.3,-14)(280.6,0)(280.95,-1)(281.05,-102)(281.15,-80)(281.3,-28)(282,-20)(283,-16)(284.5,-12)(286,-14)(287.5,-10)(289,-14)
(290.3,-14)(290.6,-2)(290.95,-3)(291.05,-100)(291.15,-80)(291.3,-28)(291.8,-20)
};
\end{axis}
\end{tikzpicture}
\end{document}
